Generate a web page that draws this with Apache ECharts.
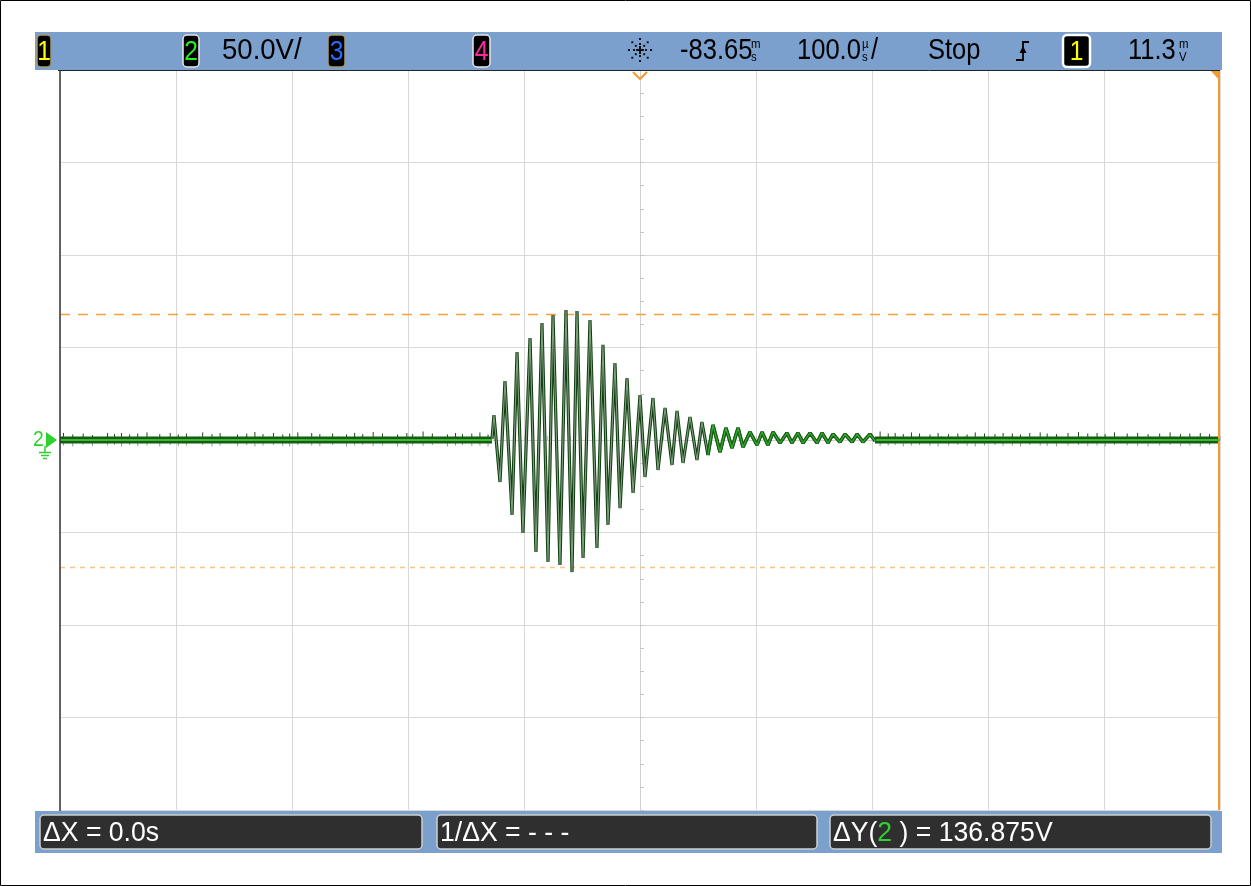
<!DOCTYPE html>
<html>
<head>
<meta charset="utf-8">
<script src="https://cdn.jsdelivr.net/npm/echarts@6/dist/echarts.min.js"></script>
<style>
  html, body { margin: 0; padding: 0; background: #ffffff; }
  #scope { width: 1251px; height: 886px; }
</style>
</head>
<body>
<div id="scope"></div>
<script>
// Channel 2 capture: 100 µs/div horizontally, 50 V/div vertically.
const timeMin = -500, timeMax = 500, timeDiv = 100;   // µs
const voltMin = -200, voltMax = 200, voltDiv = 50;    // V

// Ringing burst: successive turning points of the trace (time µs, volts)
const burstTime = [
  -127.6, -125.9, -120.7, -116.4, -110.3, -106.0, -100.9, -94.8, -89.7, -84.5,
  -79.3, -75.0, -69.0, -63.8, -58.6, -54.3, -49.1, -43.1, -37.1, -31.9,
  -27.6, -21.6, -17.2, -11.2, -6.0, 0.0, 4.3, 11.2, 15.5, 21.6,
  27.6, 31.9, 37.1, 43.1, 49.1, 53.4, 58.6, 62.9, 69.0, 74.1,
  79.3, 84.5, 88.8, 94.8, 100.9, 105.2, 110.3, 114.7, 120.7, 126.7,
  131.0, 136.2, 140.5, 146.6, 152.6, 156.9, 162.1, 166.4, 172.4, 176.7,
  182.8, 187.1, 192.2, 198.3, 202.6
];
const burstVolts = [
  0.5, 13.5, -22.7, 31.9, -40.5, 47.6, -50.3, 55.1, -60.5, 63.2,
  -65.9, 67.6, -67.6, 70.3, -71.4, 69.7, -63.8, 64.9, -58.4, 51.4,
  -45.9, 41.6, -36.8, 33.5, -28.6, 24.3, -20.0, 22.7, -16.2, 17.3,
  -13.5, 15.7, -12.4, 12.4, -10.8, 9.7, -8.1, 8.1, -6.5, 6.5,
  -4.3, 6.5, -3.8, 4.3, -2.7, 4.3, -2.7, 4.3, -1.6, 3.8,
  -1.6, 3.8, -1.6, 3.8, -1.6, 3.8, -1.6, 3.2, -1.1, 3.2,
  -1.1, 3.2, -1.1, 3.2, -0.5
];
// the slow tail of the ring-down is drawn as a brighter band
const tailStart = 58;   // µs

// Quiet trace before and after the burst
const baselineLevel = 0;
const baselineLeft = [-500, -127.6];
const baselineRight = [202.6, 500];

// Noise glitches on the quiet trace (time µs, top V, bottom V)
const glitchTime = [
  -497, -489, -480, -472, -459, -453, -447, -440, -433, -425, -414, -405, -398, -391, -377,
  -369, -362, -347, -339, -332, -325, -316, -308, -302, -295, -283, -276, -265, -253, -246,
  -239, -230, -222, -209, -201, -196, -187, -179, -166, -159, -153, -145, -138, -131,
  207, 214, 220, 227, 234, 241, 250, 257, 266, 274, 282, 289, 297, 306, 313, 321, 328, 336,
  345, 351, 359, 369, 378, 386, 394, 401, 409, 420, 429, 438, 448, 457, 466, 474, 483, 491
];
const glitchTop = [
  3.8, 3.0, 3.5, 2.7, 3.8, 3.2, 3.8, 3.0, 3.5, 4.1, 3.2, 3.8, 3.0, 3.5, 4.1,
  3.2, 3.8, 3.0, 3.5, 4.3, 3.2, 3.8, 3.0, 3.5, 4.1, 3.8, 3.2, 3.5, 3.0, 3.8,
  3.2, 4.3, 3.5, 3.0, 3.8, 3.2, 4.6, 3.5, 3.0, 3.8, 3.2, 3.5, 4.1, 3.0,
  4.6, 3.5, 3.8, 3.2, 4.1, 3.5, 3.0, 3.8, 3.2, 3.5, 3.0, 4.1, 3.5, 3.2, 3.8, 3.5, 3.0, 3.8,
  4.1, 3.5, 3.2, 3.8, 4.3, 3.5, 3.8, 3.2, 4.1, 3.5, 3.8, 3.2, 3.5, 4.1, 3.2, 3.5, 3.8, 3.2
];
const glitchBottom = [
  -3.0, -3.5, -2.5, -3.2, -3.0, -2.7, -3.5, -2.7, -3.2, -3.0, -3.5, -2.7, -3.2, -3.0, -2.7,
  -3.5, -3.0, -3.2, -2.7, -3.5, -3.0, -2.7, -3.2, -3.5, -2.7, -3.0, -3.2, -2.7, -3.5, -3.0,
  -2.7, -3.2, -3.0, -3.5, -2.7, -3.0, -3.2, -2.7, -3.5, -3.0, -2.7, -3.2, -3.0, -3.5,
  -3.2, -3.0, -2.7, -3.5, -3.0, -2.7, -3.2, -3.5, -3.0, -2.7, -3.2, -3.5, -3.0, -2.7, -3.2, -3.0, -3.5, -2.7,
  -3.0, -3.2, -3.5, -3.0, -2.7, -3.2, -3.0, -3.5, -2.7, -3.0, -3.2, -3.5, -3.0, -2.7, -3.2, -3.0, -3.5, -2.7
];

// Cursors
const cursorY1 = 68.125, cursorY2 = -68.75;   // V
const cursorX = 498.5;                        // µs (X1 and X2 coincide)

// Status readouts
const topReadout = { scale: '50.0V/', delay: '-83.65', timebase: '100.0', run: 'Stop', level: '11.3' };
const bottomReadout = { dx: 'ΔX = 0.0s', invDx: '1/ΔX = - - -', dyValue: ' ) = 136.875V' };

const burstData = burstTime.map((t, i) => [t, burstVolts[i]]);
const tailData = burstData.filter(p => p[0] >= tailStart);
const baselineData = [
  [baselineLeft[0], baselineLevel], [baselineLeft[1], baselineLevel], [null, '-'],
  [baselineRight[0], baselineLevel], [baselineRight[1], baselineLevel]
];
const glitchUp = [], glitchDown = [];
glitchTime.forEach((t, i) => {
  glitchUp.push([t, baselineLevel], [t, glitchTop[i]], [t, '-']);
  glitchDown.push([t, baselineLevel], [t, glitchBottom[i]], [t, '-']);
});

// Narrow sans: Liberation Sans squeezed horizontally
const FONT = "'Liberation Sans', Arial, sans-serif";
const TOP_SQUEEZE = 0.88;
const BOTTOM_SQUEEZE = 0.95;
const BAR_BLUE = '#7ba0cd';
const ORANGE = '#f59a30';
const GREEN = '#2fd12f';

function txt(text, x, y, fill, size, align, squeeze) {
  return {
    type: 'text', z: 110, x: x, y: y, scaleX: squeeze || TOP_SQUEEZE,
    style: {
      text: text, x: 0, y: 0, fill: fill,
      font: size + 'px ' + FONT,
      textAlign: align || 'left', align: align || 'left',
      textVerticalAlign: 'middle', verticalAlign: 'middle'
    }
  };
}
function chanBox(x, w, label, color, border, bw) {
  return [
    { type: 'rect', z: 105, shape: { x: x, y: 35, width: w, height: 32, r: 4 },
      style: { fill: '#000000', stroke: border, lineWidth: bw } },
    txt(label, x + w / 2, 52, color, 28, 'center')
  ];
}
function stackedUnit(x, top, bottom) {
  return [
    txt(top, x, 44, '#000000', 13),
    txt(bottom, x, 57, '#000000', 13)
  ];
}

// Acquisition "snowflake" icon: dots along eight spokes
const starDots = [];
[[0, -1], [0.7, -0.7], [1, 0], [0.7, 0.7], [0, 1], [-0.7, 0.7], [-1, 0], [-0.7, -0.7]].forEach(d => {
  [6, 11].forEach(r => {
    starDots.push({ type: 'rect', z: 110,
      shape: { x: 640 + d[0] * r - 1, y: 50 + d[1] * r - 1, width: 2, height: 2 },
      style: { fill: '#111' } });
  });
});
starDots.push({ type: 'rect', z: 110, shape: { x: 639, y: 46, width: 2, height: 8 }, style: { fill: '#111' } });
starDots.push({ type: 'rect', z: 110, shape: { x: 636, y: 49, width: 8, height: 2 }, style: { fill: '#111' } });

const graphics = [
  // outer frame
  { type: 'rect', z: 1, shape: { x: 0.5, y: 0.5, width: 1250, height: 885 },
    style: { fill: 'none', stroke: '#000', lineWidth: 1 } },
  // top status bar
  { type: 'rect', z: 100, shape: { x: 35, y: 32, width: 1187, height: 38 },
    style: { fill: BAR_BLUE } },
  { type: 'line', z: 101, shape: { x1: 58, y1: 70.5, x2: 1220, y2: 70.5 },
    style: { stroke: '#222', lineWidth: 1 } },
  // bottom measurement bar
  { type: 'rect', z: 100, shape: { x: 35, y: 811, width: 1187, height: 42 },
    style: { fill: BAR_BLUE } },
  { type: 'rect', z: 105, shape: { x: 40, y: 815, width: 382, height: 34, r: 4 },
    style: { fill: '#2f2f2f', stroke: '#cfcfcf', lineWidth: 1.5 } },
  { type: 'rect', z: 105, shape: { x: 437, y: 815, width: 380, height: 34, r: 4 },
    style: { fill: '#2f2f2f', stroke: '#cfcfcf', lineWidth: 1.5 } },
  { type: 'rect', z: 105, shape: { x: 830, y: 815, width: 381, height: 34, r: 4 },
    style: { fill: '#2f2f2f', stroke: '#cfcfcf', lineWidth: 1.5 } },
  txt(bottomReadout.dx, 43, 833, '#ffffff', 28, 'left', BOTTOM_SQUEEZE),
  txt(bottomReadout.invDx, 440, 833, '#ffffff', 28, 'left', BOTTOM_SQUEEZE),
  { type: 'text', z: 110, x: 833, y: 833, scaleX: BOTTOM_SQUEEZE, style: {
      text: '{w|ΔY(}{g|2}{w|' + bottomReadout.dyValue + '}', x: 0, y: 0,
      textAlign: 'left', align: 'left', textVerticalAlign: 'middle', verticalAlign: 'middle',
      rich: {
        w: { fill: '#ffffff', color: '#ffffff', font: '28px ' + FONT, fontSize: 28, fontFamily: FONT },
        g: { fill: GREEN, color: GREEN, font: '28px ' + FONT, fontSize: 28, fontFamily: FONT }
      } } },
  // left edge of the graticule
  { type: 'line', z: 101, shape: { x1: 60, y1: 70, x2: 60, y2: 811 },
    style: { stroke: '#333', lineWidth: 1.5 } },
  // trigger position marker
  { type: 'polyline', z: 102, shape: { points: [[633, 72], [640, 79], [647, 72]] },
    style: { stroke: ORANGE, lineWidth: 2, fill: 'none' } },
  // X-cursor marker at the top right
  { type: 'polygon', z: 102, shape: { points: [[1211, 71], [1220, 71], [1220, 81]] },
    style: { fill: ORANGE } },
  // channel 2 ground reference marker
  txt('2', 33, 440, GREEN, 22),
  { type: 'polygon', z: 110, shape: { points: [[46, 432], [57, 440], [46, 448]] },
    style: { fill: GREEN } },
  { type: 'line', z: 110, shape: { x1: 45, y1: 446, x2: 45, y2: 452 }, style: { stroke: GREEN, lineWidth: 1.5 } },
  { type: 'line', z: 110, shape: { x1: 39, y1: 452.5, x2: 51, y2: 452.5 }, style: { stroke: GREEN, lineWidth: 1.5 } },
  { type: 'line', z: 110, shape: { x1: 41, y1: 455.5, x2: 49, y2: 455.5 }, style: { stroke: GREEN, lineWidth: 1.5 } },
  { type: 'line', z: 110, shape: { x1: 43, y1: 458.5, x2: 47, y2: 458.5 }, style: { stroke: GREEN, lineWidth: 1.5 } },
  // top bar readouts
  ...chanBox(37, 14, '1', '#ffff00', '#a89a6a', 1.5),
  ...chanBox(183, 16, '2', '#22ee22', '#e8e8e8', 1.5),
  txt(topReadout.scale, 222, 51, '#000000', 29, 'left', 0.95),
  ...chanBox(328, 17, '3', '#2a6bff', '#a89a6a', 1.5),
  ...chanBox(473, 17, '4', '#ff2aa0', '#e8e8e8', 1.5),
  ...starDots,
  txt(topReadout.delay, 680, 51, '#000000', 29),
  ...stackedUnit(751, 'm', 's'),
  txt(topReadout.timebase, 797, 51, '#000000', 29),
  ...stackedUnit(862, 'µ', 's'),
  txt('/', 871, 51, '#000000', 29),
  txt(topReadout.run, 928, 51, '#000000', 29),
  // rising-edge trigger symbol
  { type: 'polyline', z: 110, shape: { points: [[1016, 60], [1023, 60], [1023, 42], [1029, 42]] },
    style: { stroke: '#000', lineWidth: 1.8, fill: 'none' } },
  { type: 'polygon', z: 110, shape: { points: [[1019.5, 53], [1023, 46], [1026.5, 53]] },
    style: { fill: '#000' } },
  ...chanBox(1063, 27, '1', '#ffff00', '#ffffff', 2.5),
  txt(topReadout.level, 1128, 51, '#000000', 29),
  ...stackedUnit(1179, 'm', 'V')
];

const gridLine = { show: true, lineStyle: { color: '#d9d9d9', width: 1 } };
const centreLine = { show: true, onZero: true, lineStyle: { color: '#d0d0d0', width: 1 } };
const hiddenLabel = { show: false };
const tickStyle = { color: '#c4c4c4' };

const option = {
  animation: false,
  backgroundColor: '#ffffff',
  grid: { left: 60, top: 70, width: 1160, height: 740, containLabel: false },
  xAxis: [
    { type: 'value', min: timeMin, max: timeMax, interval: timeDiv,
      axisLine: centreLine, splitLine: gridLine, axisLabel: hiddenLabel,
      axisTick: { show: true, inside: true, length: 4, lineStyle: tickStyle },
      minorTick: { show: true, splitNumber: 5, length: 4, lineStyle: tickStyle } },
    { type: 'value', min: timeMin, max: timeMax, interval: timeDiv,
      axisLine: Object.assign({}, centreLine, { onZeroAxisIndex: 1 }), splitLine: { show: false }, axisLabel: hiddenLabel,
      axisTick: { show: true, inside: false, length: 4, lineStyle: tickStyle },
      minorTick: { show: true, splitNumber: 5, length: 4, lineStyle: tickStyle } }
  ],
  yAxis: [
    { type: 'value', min: voltMin, max: voltMax, interval: voltDiv,
      axisLine: centreLine, splitLine: gridLine, axisLabel: hiddenLabel,
      axisTick: { show: true, inside: true, length: 4, lineStyle: tickStyle },
      minorTick: { show: true, splitNumber: 4, length: 4, lineStyle: tickStyle } },
    { type: 'value', min: voltMin, max: voltMax, interval: voltDiv,
      axisLine: Object.assign({}, centreLine, { onZeroAxisIndex: 1 }), splitLine: { show: false }, axisLabel: hiddenLabel,
      axisTick: { show: true, inside: false, length: 4, lineStyle: tickStyle },
      minorTick: { show: true, splitNumber: 4, length: 4, lineStyle: tickStyle } }
  ],
  series: [
    // glitches on the quiet trace (upward dark, downward grey)
    { type: 'line', data: glitchUp, symbol: 'none', connectNulls: false, z: 3,
      lineStyle: { color: '#1d4a16', width: 1 } },
    { type: 'line', data: glitchDown, symbol: 'none', connectNulls: false, z: 3,
      lineStyle: { color: '#8c9c8c', width: 1 } },
    // quiet trace: thick dark band with a brighter core
    { type: 'line', data: baselineData, symbol: 'none', connectNulls: false, z: 4,
      lineStyle: { color: '#1c5a14', width: 7 } },
    { type: 'line', data: baselineData, symbol: 'none', connectNulls: false, z: 5,
      lineStyle: { color: '#2fc02f', width: 2 } },
    // ringing burst
    { type: 'line', data: burstData, symbol: 'none', z: 6,
      lineStyle: { color: '#123f12', width: 3.2 } },
    { type: 'line', data: burstData, symbol: 'none', z: 7,
      lineStyle: { color: '#7f9f7f', width: 1.1 },
      markLine: {
        silent: true, symbol: 'none', label: { show: false }, animation: false,
        data: [
          { yAxis: cursorY1, lineStyle: { color: '#f5a040', width: 1.3, type: [10, 8] } },
          { yAxis: cursorY2, lineStyle: { color: '#f9c488', width: 1.3, type: [5, 5] } },
          { xAxis: cursorX, lineStyle: { color: ORANGE, width: 2, type: 'solid' } }
        ]
      } },
    // slow tail of the ring-down
    { type: 'line', data: tailData, symbol: 'none', z: 8,
      lineStyle: { color: '#1a5a14', width: 3.5 } },
    { type: 'line', data: tailData, symbol: 'none', z: 9,
      lineStyle: { color: '#2fb02f', width: 1.2 } }
  ],
  graphic: { elements: graphics }
};

const chart = echarts.init(document.getElementById('scope'), null, { renderer: 'canvas' });
chart.setOption(option);
</script>
</body>
</html>
